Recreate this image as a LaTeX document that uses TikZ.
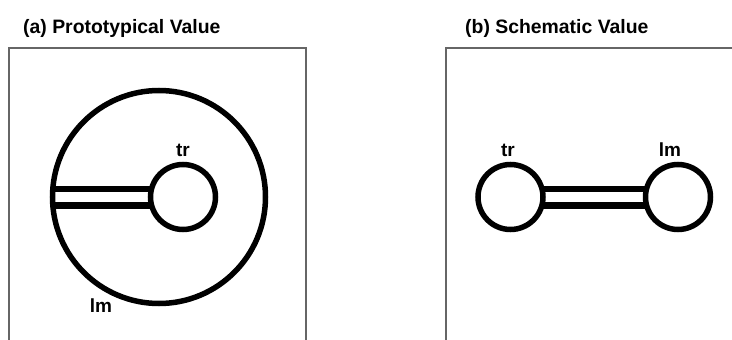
\documentclass[tikz,border=0pt]{standalone}
\usepackage{fontspec}
\setmainfont{Liberation Sans}
\usetikzlibrary{positioning,backgrounds}
\begin{document}
\begin{tikzpicture}[
  x=1pt,y=-1pt,
  every node/.style={font=\fontsize{19}{21}\selectfont\bfseries},
  title/.style={font=\fontsize{19.4}{21}\selectfont\bfseries,anchor=base west,inner sep=0pt},
  tag/.style={anchor=base,inner sep=0pt},
  frame/.style={draw=black!60,line width=1.2pt},
  ring/.style={circle,draw,line width=5.5pt,inner sep=0pt,outer sep=0pt},
  link/.style={draw,line width=6.5pt,double,double distance=10pt}
]
\useasboundingbox (0,0) rectangle (732,340);

% (a) prototypical value
\node[title] (titlea) at (23,33) {(a) Prototypical Value};
\draw[frame] (9,345) -- (9,48) -- (306,48) -- (306,345);
\node[ring,minimum size=213pt] (lma) at (159,197) {};
\node[ring,minimum size=65pt] (tra) at (183,197) {};
\node[tag] (tratag) at (183,156) {tr};
\node[tag] (lmatag) at (101,312) {lm};

% (b) schematic value
\node[title] (titleb) at (465,33) {(b) Schematic Value};
\draw[frame] (446,345) -- (446,48) -- (740,48);
\node[ring,minimum size=65pt] (trb) at (510.5,197) {};
\node[ring,minimum size=65pt] (lmb) at (678,197) {};
\node[tag] (trbtag) at (508,156) {tr};
\node[tag] (lmbtag) at (670,156) {lm};

% double bonds behind the rings
\begin{scope}[on background layer]
  \draw[link] (lma.west) -- (tra.west);
  \draw[link] (trb.east) -- (lmb.west);
\end{scope}
\end{tikzpicture}
\end{document}
